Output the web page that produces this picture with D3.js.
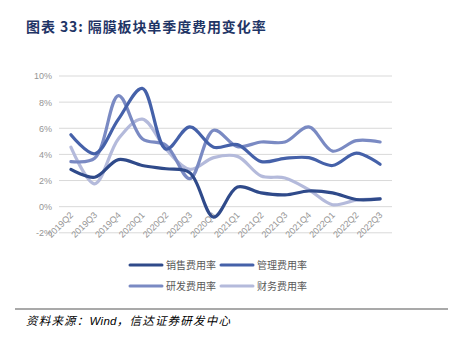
<!DOCTYPE html>
<html><head><meta charset="utf-8">
<script src="https://cdn.jsdelivr.net/npm/d3@7"></script>
<style>
html,body{margin:0;padding:0;background:#fff;}
svg{display:block;}
</style></head>
<body>
<svg id="c" width="465" height="345"></svg>
<script>
const categories = ["2019Q2","2019Q3","2019Q4","2020Q1","2020Q2","2020Q3","2020Q4","2021Q1","2021Q2","2021Q3","2021Q4","2022Q1","2022Q2","2022Q3"];
const seriesNames = ["销售费用率","管理费用率","研发费用率","财务费用率"];
const sales   = [2.85, 2.25, 3.6, 3.15, 2.9, 2.6, -0.8, 1.5, 1.05, 0.9, 1.2, 1.05, 0.55, 0.6];
const admin   = [5.5, 4.05, 6.7, 9.05, 4.4, 6.1, 4.55, 4.75, 3.45, 3.7, 3.75, 3.15, 4.1, 3.25];
const rnd     = [3.45, 3.7, 8.5, 5.2, 4.7, 2.15, 5.85, 4.6, 4.95, 4.95, 6.1, 4.25, 5.05, 4.95];
const finance = [4.55, 1.75, 5.2, 6.7, 4.4, 2.85, 3.75, 3.85, 2.35, 2.2, 1.3, 0.15, 0.5, 0.6];
const yTicks = [-2, 0, 2, 4, 6, 8, 10];
const colors = ["#2f4a8a", "#4561a9", "#7a8ac3", "#b4badb"];

const series = [sales, admin, rnd, finance];
const svg = d3.select("#c");

// title
svg.append("text").attr("x", 26).attr("y", 32)
  .attr("font-family", "'Noto Sans CJK SC', sans-serif").attr("font-weight", "bold")
  .attr("font-size", 14).attr("fill", "#1f3566").attr("letter-spacing", 0.9)
  .text("图表 33:  隔膜板块单季度费用变化率");

const x = d3.scaleBand().domain(categories).range([59, 392]);
const y = d3.scaleLinear().domain([-2, 10]).range([232.8, 76]);

// gridlines
svg.append("g").selectAll("line").data(yTicks).join("line")
  .attr("x1", 59).attr("x2", 392)
  .attr("y1", d => y(d)).attr("y2", d => y(d))
  .attr("stroke", "#d9d9d9").attr("stroke-width", 1);

// y axis labels
const yAxis = d3.axisLeft(y).tickValues(yTicks).tickFormat(d => d + "%").tickSize(0).tickPadding(0);
const gy = svg.append("g").attr("transform", "translate(52,0)").call(yAxis);
gy.select(".domain").remove();
gy.selectAll("text").attr("font-family", "'Liberation Sans', Arial, sans-serif")
  .attr("font-size", 9).attr("fill", "#959595");

// x axis labels (at 0% line)
const xAxis = d3.axisBottom(x).tickSize(0).tickPadding(0);
const gx = svg.append("g").attr("transform", `translate(0,${y(0)})`).call(xAxis);
gx.select(".domain").remove();
gx.selectAll("text")
  .attr("font-family", "'Liberation Sans', Arial, sans-serif")
  .attr("font-size", 9).attr("fill", "#959595")
  .attr("text-anchor", "end").attr("dy", null).attr("y", 0)
  .attr("transform", "translate(3,9) rotate(-45)");

// lines
const line = d3.line()
  .x((d, i) => x(categories[i]) + x.bandwidth() / 2)
  .y(d => y(d))
  .curve(d3.curveCatmullRom.alpha(0.5));

const drawOrder = [3, 2, 1, 0];
svg.append("g").selectAll("path").data(drawOrder).join("path")
  .attr("d", k => line(series[k]))
  .attr("fill", "none").attr("stroke", k => colors[k])
  .attr("stroke-width", 3.2).attr("stroke-linecap", "round").attr("stroke-linejoin", "round");

// legend
const legPos = [[130, 265], [221, 265], [130, 286], [221, 286]];
const leg = svg.append("g").selectAll("g").data(seriesNames).join("g")
  .attr("transform", (d, i) => `translate(${legPos[i][0]},${legPos[i][1]})`);
leg.append("line").attr("x1", 0).attr("x2", 32).attr("y1", 0).attr("y2", 0)
  .attr("stroke", (d, i) => colors[i]).attr("stroke-width", 3).attr("stroke-linecap", "round");
leg.append("text").attr("x", 36).attr("y", 4)
  .attr("font-family", "'Noto Sans CJK SC', sans-serif").attr("font-size", 10)
  .attr("fill", "#595959").text(d => d);

// footer line and source
svg.append("line").attr("x1", 15).attr("x2", 448).attr("y1", 309).attr("y2", 309)
  .attr("stroke", "#8c8c8c").attr("stroke-width", 1.5);
const src = svg.append("text").attr("x", 26).attr("y", 325)
  .attr("font-size", 11.5).attr("fill", "#000").attr("font-style", "italic")
  .attr("letter-spacing", 1.2)
  .attr("font-family", "'Noto Sans CJK SC', sans-serif");
src.append("tspan").text("资料来源：");
src.append("tspan").attr("font-family", "'Liberation Sans', Arial, sans-serif").attr("letter-spacing", 0.3).text("Wind");
src.append("tspan").text("，信达证券研发中心");
</script>
</body></html>
